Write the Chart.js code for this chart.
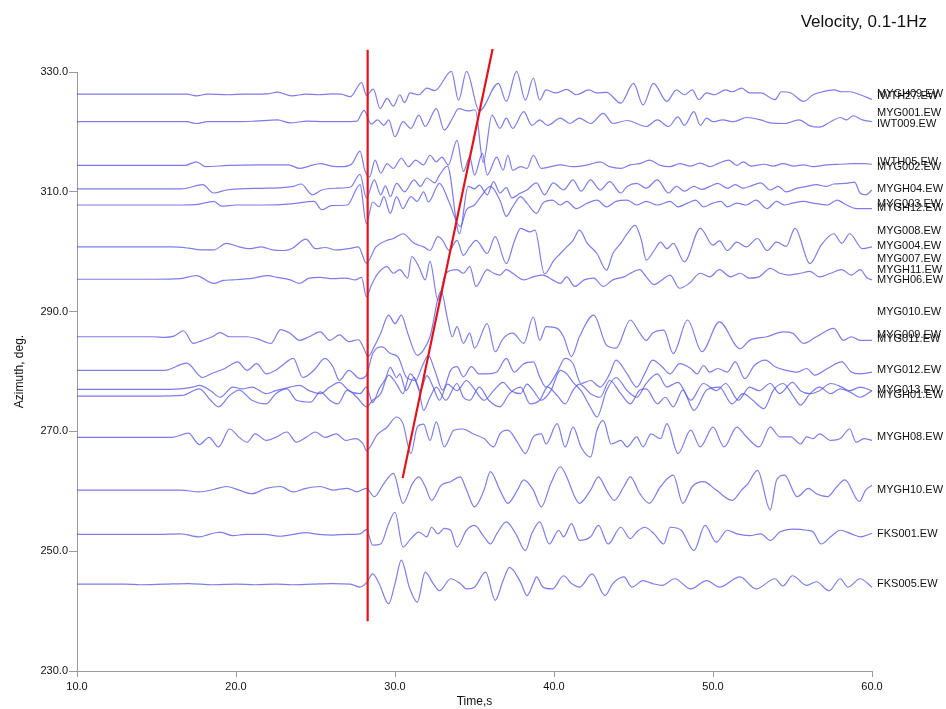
<!DOCTYPE html>
<html>
<head>
<meta charset="utf-8">
<title>Velocity, 0.1-1Hz</title>
<script src="https://cdn.jsdelivr.net/npm/chart.js@4.4.1/dist/chart.umd.min.js"></script>
<style>
  html, body { margin: 0; padding: 0; background: #fff; }
  #wrap { width: 946px; height: 709px; }
</style>
</head>
<body>
<div id="wrap"><canvas id="seisChart" width="946" height="709"></canvas></div>
<script>
// station names printed at the right edge, with the azimuth they sit at
const labelNames = ['MYGH09.EW', 'IWTH27.EW', 'MYG001.EW', 'IWT009.EW', 'IWTH05.EW', 'MYG002.EW',
  'MYGH04.EW', 'MYG003.EW', 'MYGH12.EW', 'MYG008.EW', 'MYG004.EW', 'MYG007.EW', 'MYGH11.EW',
  'MYGH06.EW', 'MYG010.EW', 'MYG009.EW', 'MYG011.EW', 'MYG012.EW', 'MYG013.EW', 'MYGH01.EW',
  'MYGH08.EW', 'MYGH10.EW', 'FKS001.EW', 'FKS005.EW'];
const labelAzimuths = [326.3, 326.0, 323.1, 321.4, 315.0, 314.2, 310.4, 307.9, 307.3, 303.5,
  301.0, 298.8, 297.0, 295.3, 289.9, 286.1, 285.4, 280.2, 276.9, 276.0, 269.0, 260.2, 252.8, 244.6];

// traces: station, baseline azimuth (deg) and waveform as [time s, offset deg]
const traceStations = ['MYGH09', 'IWT009', 'IWTH05', 'MYGH04', 'MYG003', 'MYG004', 'MYGH06',
  'MYG009', 'MYG012', 'MYG013', 'MYGH01', 'MYGH08', 'MYGH10', 'FKS001', 'FKS005'];
const traceBaselines = [326.3, 321.7, 314.4, 310.5, 307.8, 300.8, 295.4,
  285.8, 280.2, 277.0, 275.9, 269.0, 260.2, 252.8, 244.5];

const mygh09Wave = [[10,0],[16.9,0],[17.5,-0.28],[18.2,0],[19.5,-0.1],[20.5,0],[22.0,0.05],[22.6,0.33],[23.5,-0.28],[24.4,0],[25.2,-0.1],[26.0,0.05],[26.6,0],[27.2,-0.4],[27.9,1.95],[28.2,-0.2],[28.64,0.84],[29.06,-2.4],[29.5,-0.7],[29.9,-2.0],[30.3,-0.1],[30.6,-1.4],[30.95,0.2],[31.5,-0.1],[32.0,1.0],[32.5,0.6],[33.55,3.8],[34.0,-1.0],[34.5,3.8],[35.3,-2.8],[36.5,1.8],[37.0,-1.2],[37.65,3.8],[38.2,-1.0],[38.7,2.7],[39.1,-1.0],[39.5,0.7],[40.1,0.2],[40.8,0.8],[41.4,-0.1],[42.2,0.7],[42.7,0.2],[43.3,0.3],[44.2,-1.5],[45.0,1.8],[45.6,-1.8],[46.25,1.8],[47.1,-1.2],[47.7,0.7],[48.2,-0.1],[48.7,0.7],[49.1,-0.9],[49.6,0.2],[50.1,-0.1],[50.8,0.7],[51.2,0.4],[51.8,1.0],[52.3,0.2],[53.0,0.2],[53.9,-0.9],[54.3,0.4],[54.9,0.2],[55.7,-1.2],[56.3,-0.1],[56.9,0.4],[57.6,0.7],[58.1,0.4],[58.6,0.4],[59.25,-0.1],[60,-0.9]];
const iwt009Wave = [[10,0],[16.9,0],[17.5,-0.3],[18.2,0],[20.0,0],[21.2,0.1],[22.6,0.3],[23.4,-0.2],[24.5,0.1],[25.5,0],[26.7,0],[27.6,0.1],[28.05,1.9],[28.5,-0.4],[28.9,0.3],[29.3,-0.6],[29.6,0.3],[30.0,-2.5],[30.5,0],[31.0,-1.1],[31.5,1.1],[31.9,-0.8],[32.6,2.2],[33.1,-1.4],[33.6,0.5],[34.0,2.2],[34.6,1.8],[35.05,2.0],[35.55,-6.8],[36.1,1.1],[36.6,-1.1],[37.0,0.6],[37.4,-1.1],[38.1,1.7],[38.6,-0.6],[39.1,0.3],[39.6,-0.6],[40.4,0.6],[41.0,-0.3],[41.6,0.6],[42.3,-0.3],[43.1,1.4],[43.7,-0.3],[44.6,0.2],[45.8,-0.8],[46.5,0.3],[47.2,-0.8],[47.8,0.8],[48.2,-0.6],[48.8,1.7],[49.2,-0.6],[49.6,0.6],[50.0,0],[50.6,0.3],[51.3,0],[52.1,0.7],[53.0,0.3],[53.6,-0.2],[54.5,-0.3],[55.4,0.3],[56.1,-0.7],[56.7,-0.9],[57.4,0],[58.0,0.7],[58.4,0.3],[58.8,1.0],[59.4,0.3],[60,0]];
const iwth05Wave = [[10,0],[14.4,0],[16.8,0],[17.5,0.6],[18.1,-0.2],[19.5,0],[21.5,0.1],[23.3,0.1],[24.0,-0.5],[24.6,-0.1],[25.3,0.3],[26.0,-0.1],[26.8,-0.2],[27.3,0.3],[27.8,2.4],[28.1,-0.8],[28.4,-1.9],[28.75,0.9],[29.1,-1.3],[29.5,0.3],[29.9,-0.5],[30.4,1.2],[30.85,-0.2],[31.3,0.9],[31.8,0.1],[32.2,1.7],[32.6,0.6],[32.95,1.4],[33.35,0.1],[33.9,4.2],[34.3,-1.0],[34.7,1.4],[35.0,-1.6],[35.5,2.0],[35.8,-1.6],[36.4,1.4],[36.8,-0.8],[37.1,1.7],[37.4,-0.8],[37.9,-0.2],[38.3,-0.5],[38.7,1.7],[39.2,-0.5],[39.8,-0.2],[40.4,0.1],[41.2,-0.2],[42.1,0.1],[42.9,0.6],[43.5,-0.2],[44.2,-0.5],[44.8,0.1],[45.4,0.3],[46.0,0.9],[46.7,0],[47.3,-0.2],[47.9,0.3],[48.6,-0.1],[49.2,0.4],[49.8,-0.2],[50.3,0.3],[51.0,0.9],[51.5,0],[51.9,0.6],[52.4,-0.1],[53.2,0.2],[53.8,-0.1],[54.4,0.3],[55.1,-0.1],[55.7,0.1],[56.3,-0.2],[57.2,0.1],[58.0,0.2],[58.8,0.3],[59.5,0.3],[60,0.2]];
const mygh04Wave = [[10,0],[15.0,0],[16.6,0],[17.9,0.7],[18.6,-0.7],[19.4,-0.2],[20.2,0],[22.0,0.1],[23.6,0.4],[24.1,0.8],[24.8,-1.0],[25.4,-0.2],[26.3,0.1],[27.2,0.3],[27.8,2.4],[28.2,-1.5],[28.7,1.5],[29.1,-1.0],[29.4,0.5],[29.7,-1.3],[30.1,0.9],[30.6,-0.5],[31.2,1.5],[31.6,0.4],[32.0,1.8],[32.5,1.0],[32.8,2.3],[33.3,3.8],[34.05,-7.5],[34.6,0.4],[35.0,0.0],[35.3,0.6],[35.8,-1.0],[36.2,1.2],[36.6,-0.7],[37.0,0.2],[37.35,-1.5],[37.9,-0.7],[38.3,-0.2],[38.9,1.0],[39.4,-1.0],[39.95,1.0],[40.6,-0.2],[41.2,1.5],[41.7,-0.4],[42.3,1.5],[42.9,-0.2],[43.5,1.2],[44.2,-0.7],[44.6,0.4],[45.2,0.9],[45.8,0.1],[46.5,1.5],[47.2,-0.7],[47.7,0.4],[48.2,-0.4],[48.8,0.4],[49.3,-0.1],[49.8,0.4],[50.3,0.9],[50.9,0.1],[51.4,0.7],[51.9,0.1],[52.4,0.5],[53.0,1.0],[53.6,-0.2],[54.1,0.4],[54.6,-0.5],[55.3,0.1],[55.9,0.4],[56.5,0.7],[57.1,0.4],[57.6,0.8],[58.3,0.9],[58.9,1.1],[59.25,-0.7],[59.6,-1.0],[60,-0.2]];
const myg003Wave = [[10,0],[15.0,0],[16.5,0],[17.6,0.1],[18.6,0.6],[19.1,-0.2],[20.0,0],[21.8,0],[23.5,0.2],[24.9,0.6],[25.4,-0.8],[26.0,-0.1],[27.0,0],[27.8,3.4],[28.2,-3.1],[28.6,0.5],[29.0,-0.3],[29.3,1.4],[29.7,-1.4],[30.1,1.4],[30.5,-0.6],[31.0,1.4],[31.4,0.6],[31.8,2.2],[32.1,0.5],[32.8,3.6],[33.4,0.5],[34.1,-3.6],[34.5,-0.8],[35.0,0],[35.4,1.4],[36.0,3.1],[36.6,0.8],[37.0,-1.9],[37.4,-0.3],[37.9,1.4],[38.3,0.3],[38.9,-1.4],[39.3,0.3],[39.9,0.8],[40.4,0],[40.8,0.6],[41.4,-0.6],[42.1,0.3],[42.7,0.8],[43.3,-0.3],[43.9,0.6],[44.6,0.8],[45.2,0],[45.8,0.6],[46.5,0],[47.3,0.6],[47.8,-0.3],[48.4,0.3],[48.9,0.8],[49.4,-0.3],[50.0,0.3],[50.5,0.6],[50.9,-0.3],[51.5,0.3],[52.1,0],[52.7,0.8],[53.4,-0.6],[54.0,0.6],[54.5,0],[55.0,0.3],[55.7,0.6],[56.3,0.3],[57.2,0],[57.8,0.8],[58.4,0],[59.0,-0.6],[59.6,-0.6],[60,-0.6]];
const myg004Wave = [[10,0],[16.0,0],[17.0,-0.2],[17.8,-0.5],[18.6,-0.5],[19.4,0.6],[20.2,0],[20.8,-0.3],[21.6,0],[22.3,-0.5],[23.0,-0.6],[23.5,-0.3],[24.4,1.3],[25.0,-0.3],[25.6,-0.1],[26.3,-0.5],[27.1,-0.3],[27.7,0],[28.2,-2.7],[28.8,0],[29.5,1.1],[29.9,1.4],[30.5,2.2],[31.2,0.6],[31.8,0],[32.2,-0.6],[32.7,1.7],[33.0,1.1],[33.4,-0.6],[33.9,1.1],[34.3,-1.4],[34.7,0],[35.1,1.1],[35.8,-1.1],[36.3,1.7],[37.0,-2.8],[37.5,0.9],[37.9,3.1],[38.5,2.5],[38.8,2.8],[39.4,-4.5],[40.0,-2.2],[40.4,-1.1],[40.8,0],[41.2,1.1],[41.6,2.8],[42.1,0.6],[42.7,-1.1],[43.3,-3.9],[43.7,-1.1],[44.2,0.6],[44.6,2.2],[45.1,3.6],[45.5,1.1],[45.8,-2.2],[46.3,-0.6],[46.7,0.8],[47.1,-0.3],[47.5,0.6],[48.2,-2.5],[49.2,3.1],[50.0,0.3],[50.4,1.0],[50.9,-0.6],[51.5,0.8],[52.1,0],[52.8,1.4],[53.4,-0.6],[54.0,0.8],[54.6,0.1],[55.16,3.1],[56.1,-2.8],[56.8,0.3],[57.6,2.2],[58.1,0.6],[58.6,2.2],[59.4,-0.3],[60,0]];
const mygh06Wave = [[10,0],[14.8,0],[16.5,0.1],[17.5,0.6],[18.6,-0.7],[19.2,-0.2],[19.8,-0.1],[21.1,0.2],[22.0,0.6],[22.6,0.3],[23.4,-0.1],[24.0,-0.7],[24.6,0.2],[25.3,0.3],[26.1,0.1],[26.9,0.2],[27.5,-0.1],[27.9,0.3],[28.2,-2.9],[28.5,-1.1],[28.85,0.7],[29.5,2.1],[29.9,1.0],[30.3,1.6],[30.8,0.2],[31.05,3.8],[31.5,2.1],[31.9,-0.1],[32.2,3.0],[32.7,-3.5],[33.2,1.0],[33.9,1.6],[34.3,1.0],[34.7,2.1],[35.1,-1.2],[35.8,1.6],[36.2,1.0],[36.6,0.7],[37.0,1.6],[37.4,1.0],[38.1,-0.1],[38.7,0.4],[39.3,0.7],[39.9,-0.1],[40.4,-0.7],[40.8,0.4],[41.3,-1.2],[41.9,-0.1],[42.5,0.2],[43.1,-1.2],[43.7,-0.1],[44.4,0.4],[44.8,1.0],[45.4,1.6],[45.8,0.4],[46.3,-0.9],[46.7,-0.3],[47.3,0.7],[47.9,-1.5],[48.5,-0.7],[49.2,1.0],[49.8,0.4],[50.4,1.6],[51.1,0.4],[51.7,1.0],[52.3,0.2],[52.9,0.4],[53.6,1.8],[54.2,1.0],[54.8,0.7],[55.5,1.0],[56.1,1.3],[56.7,0.4],[57.4,1.0],[58.1,1.6],[58.7,0.7],[59.25,1.6],[59.7,0.2],[60,-0.1]];
const myg009Wave = [[10,0],[14.8,0],[15.5,-0.1],[16.1,0.1],[16.7,1.0],[17.3,-1.1],[17.9,-0.6],[18.5,0],[19.0,0.7],[19.6,0],[20.7,0],[21.3,-0.3],[22.2,-1.1],[22.8,1.2],[23.4,0.6],[24.0,-0.6],[24.6,0],[25.3,0.8],[25.9,-0.6],[26.5,0.3],[27.1,-0.8],[27.7,-0.5],[28.0,-1.7],[28.3,-3.3],[28.7,-1.6],[29.1,0.6],[29.6,3.6],[30.0,2.2],[30.4,3.6],[30.8,0.6],[31.4,-3.1],[31.8,-2.2],[32.2,0],[32.9,7.6],[33.3,3.0],[33.6,0],[33.9,1.7],[34.3,-1.1],[34.7,0.6],[35.0,-1.9],[35.8,2.2],[36.3,-2.5],[36.8,-0.3],[37.4,0.6],[38.1,-1.1],[38.7,3.3],[39.1,-0.6],[39.5,1.7],[40.2,1.4],[40.6,0],[41.1,-3.3],[41.6,0],[42.5,3.6],[43.3,-1.4],[43.9,-1.9],[44.8,2.8],[45.4,0.6],[45.8,-0.6],[46.2,0.6],[46.9,1.1],[47.5,-2.8],[48.4,2.8],[49.3,-2.5],[50.4,2.5],[51.7,-2.0],[52.3,-0.6],[53.4,0],[54.4,0.8],[55.0,0.6],[55.7,-1.1],[56.5,0],[57.6,1.4],[58.2,-0.6],[58.7,0],[59.25,-0.6],[60,-0.6]];
const myg012Wave = [[10,0],[14.0,0],[15.5,0],[16.9,1.2],[17.9,-1.2],[18.5,-0.5],[19.3,0.3],[20.1,1.4],[20.7,0],[21.3,1.1],[21.9,-0.6],[22.5,0],[22.9,0.8],[23.6,2.0],[24.2,-1.2],[24.9,0],[25.6,2.0],[26.1,0.6],[26.5,-1.7],[27.1,0],[27.8,-1.4],[28.2,-0.8],[28.6,2.8],[29.2,3.9],[29.7,2.8],[30.2,2.2],[30.7,-1.1],[31.3,-1.7],[31.7,0.6],[32.1,2.5],[32.5,0],[33.0,-3.3],[33.5,0],[33.9,0.6],[34.3,-1.1],[34.8,0.6],[35.3,-0.6],[35.8,-0.6],[36.4,-0.3],[37.0,2.0],[37.5,-0.3],[38.1,1.1],[38.7,1.4],[39.1,-1.1],[39.5,-2.8],[40.2,-0.3],[40.7,2.0],[41.2,1.1],[41.7,-2.2],[42.3,-1.7],[42.9,-2.8],[43.5,-0.6],[43.9,1.7],[44.6,-0.6],[45.2,-2.8],[45.7,-0.6],[46.2,1.7],[46.8,0.6],[47.3,-0.6],[47.9,1.1],[48.6,0.3],[49.0,-0.6],[49.4,0.8],[49.8,-0.3],[50.3,0.3],[50.9,-0.3],[51.4,1.4],[52.0,-1.4],[52.6,0.8],[53.3,1.7],[53.9,0.6],[54.6,0],[55.3,-0.3],[55.9,0.3],[56.4,-0.8],[57.2,0.3],[58.1,1.4],[58.7,-0.3],[59.25,-0.6],[60,-0.3]];
const myg013Wave = [[10,0],[15.0,0],[16.5,0.1],[17.3,0.4],[17.7,0.7],[18.4,-0.2],[19.0,-1.3],[19.8,0.4],[20.4,0.1],[21.0,0.4],[21.9,-0.7],[22.5,-0.2],[23.4,0.4],[24.0,0.7],[24.6,-0.2],[25.3,-0.7],[25.9,0.4],[26.5,1.2],[27.1,-0.2],[27.8,-0.7],[28.2,0.4],[28.6,-2.2],[29.0,0.1],[29.4,1.8],[29.7,3.7],[30.1,2.0],[30.3,2.6],[30.7,-0.2],[31.2,2.0],[31.6,-0.2],[32.0,2.3],[32.4,0.4],[32.8,-1.8],[33.3,0.9],[33.9,-0.2],[34.5,1.5],[34.9,0.4],[35.6,-1.8],[36.2,-0.2],[36.8,1.2],[37.3,-0.2],[37.9,-0.7],[38.3,0.9],[38.7,-0.2],[39.2,-1.8],[39.8,-0.2],[40.4,3.2],[40.8,2.6],[41.2,1.2],[41.7,-0.2],[42.3,-3.0],[42.7,-4.6],[43.3,-0.2],[43.9,2.0],[44.6,-0.2],[45.2,-1.3],[45.8,1.0],[46.5,2.6],[47.1,0.4],[47.5,0.9],[47.8,1.2],[48.6,-1.8],[49.4,1.0],[50.2,-0.2],[50.8,1.0],[51.6,-1.8],[52.3,0.4],[52.9,-0.2],[53.6,1.0],[54.2,-0.7],[55.0,1.2],[55.5,-0.2],[56.1,-0.7],[56.7,-0.2],[57.4,1.0],[58.1,0.4],[58.6,-0.2],[59.25,0.4],[60,-0.2]];
const mygh01Wave = [[10,0],[15.0,0],[16.6,0.1],[17.7,1.2],[18.4,-0.7],[18.9,-1.8],[19.6,0.1],[20.2,1.0],[21.0,-0.7],[21.9,-1.3],[22.5,0.4],[23.2,1.2],[23.8,-0.7],[24.7,-1.0],[25.3,0.7],[25.9,-0.7],[26.4,-1.3],[27.0,1.0],[27.6,-0.2],[28.2,-1.8],[28.6,-0.7],[29.1,0.4],[29.6,3.5],[30.1,2.0],[30.5,0.4],[30.95,3.7],[31.5,1.0],[31.8,-2.4],[32.2,-0.2],[32.6,1.5],[33.2,-0.7],[33.9,2.1],[34.3,-0.2],[34.7,-0.7],[35.3,1.5],[35.9,-0.7],[36.6,-1.8],[37.2,0.4],[37.9,1.5],[38.5,-1.3],[39.1,-0.7],[39.6,1.5],[40.2,0.1],[40.7,-1.3],[41.2,1.0],[41.6,2.0],[42.3,0.4],[42.9,-0.2],[43.5,2.6],[44.2,0.4],[44.8,-1.3],[45.4,1.0],[45.8,1.2],[46.5,-1.3],[47.0,-0.2],[47.5,-1.8],[48.1,1.0],[48.8,-2.4],[49.6,1.0],[50.4,1.5],[51.2,-1.3],[51.9,0.4],[52.5,-0.7],[53.2,-2.1],[53.8,1.0],[54.4,2.1],[55.1,-0.2],[55.5,-1.5],[56.1,0.4],[56.7,1.5],[57.4,0.4],[58.0,1.2],[58.6,0.7],[59.25,-0.2],[60,0.9]];
const mygh08Wave = [[10,0],[14.4,0],[16.0,0],[17.0,0.7],[17.7,-1.2],[18.3,0],[18.9,-1.6],[19.6,1.4],[20.2,0],[20.7,-0.8],[21.2,0.6],[21.9,-0.5],[22.5,0],[23.2,0.9],[23.8,-0.8],[24.4,0],[25.0,0.9],[25.6,0],[26.3,0.6],[26.9,-0.5],[27.5,-0.2],[28.0,-1.1],[28.2,-2.2],[28.9,0.5],[29.5,1.7],[30.1,3.4],[30.5,2.3],[31.0,-2.7],[31.4,1.7],[31.8,2.2],[32.2,-0.5],[32.6,2.6],[33.1,-1.6],[33.7,1.2],[34.3,1.4],[34.9,0.6],[35.6,-0.2],[36.2,-1.6],[36.6,0.6],[37.1,1.2],[37.7,-0.8],[38.2,-2.7],[38.7,0.1],[39.2,0.6],[39.5,-1.1],[40.2,2.3],[40.7,-1.6],[41.2,1.7],[41.7,-1.6],[42.3,-3.3],[42.7,1.2],[43.1,2.8],[43.6,-1.1],[44.2,-0.5],[44.6,-1.6],[45.2,0.1],[45.6,-1.6],[46.1,0.6],[46.7,-0.2],[47.1,2.3],[47.8,-2.7],[48.6,1.2],[49.2,-1.6],[50.0,1.7],[50.7,-1.6],[51.5,1.7],[52.1,0.1],[52.9,-1.6],[53.6,1.7],[54.2,0.1],[54.9,0.1],[55.5,-1.1],[55.9,0.1],[56.3,-0.2],[56.7,0.6],[57.4,-0.5],[58.0,-0.2],[58.6,1.4],[59.0,-0.8],[59.5,-0.2],[60,-0.5]];
const mygh10Wave = [[10,0],[16.5,0],[17.7,-0.3],[18.6,0.1],[19.4,0.6],[20.2,0],[21.0,-0.6],[21.9,0.3],[22.8,0.6],[23.6,-0.3],[24.4,0.3],[25.3,0.6],[26.1,0],[27.0,0.3],[27.6,-0.3],[28.2,0.3],[28.7,-1.1],[29.3,1.1],[29.9,2.8],[30.5,-2.2],[31.1,1.1],[31.5,2.2],[31.9,0.6],[32.3,-1.7],[32.9,0.8],[33.5,1.4],[34.1,2.2],[34.5,0],[35.0,-2.8],[35.6,0],[36.0,3.1],[36.6,0],[37.1,-2.2],[37.7,0],[38.1,1.7],[38.7,0],[39.2,-2.8],[39.8,1.1],[40.4,3.9],[40.8,2.2],[41.3,-1.1],[41.6,-2.2],[42.3,0],[42.8,2.2],[43.3,0],[43.8,-1.7],[44.4,0.6],[44.8,2.2],[45.4,-0.6],[46.0,-2.2],[46.7,0.6],[47.5,2.5],[48.1,-2.2],[48.7,0.6],[49.4,1.4],[50.2,0],[51.2,-1.7],[51.8,0],[52.2,1.1],[52.8,3.3],[53.6,-3.3],[54.0,1.7],[54.5,2.5],[55.3,-1.1],[56.0,0.3],[56.5,-0.6],[57.2,-1.1],[57.8,0.6],[58.3,1.7],[59.2,-1.9],[59.6,0],[60,0.8]];
const fks001Wave = [[10,0],[15.0,0],[16.5,0.1],[17.7,-0.4],[18.3,0],[19.0,0.4],[19.8,-0.2],[20.6,0],[21.8,0],[22.8,-0.3],[23.6,0],[24.4,0.3],[25.2,0],[26.1,-0.1],[27.0,0],[27.8,0.1],[28.2,0.8],[28.6,-1.8],[29.1,-1.6],[29.6,1.8],[30.0,3.7],[30.5,-2.1],[31.0,-0.7],[31.5,0.4],[32.0,-0.4],[32.3,1.2],[32.7,0.1],[33.1,1.0],[33.5,0.7],[33.9,-2.1],[34.5,0.7],[35.0,1.5],[35.6,-0.4],[36.0,-1.6],[36.4,0.1],[37.0,2.1],[37.6,0.1],[38.2,-2.7],[38.6,0.1],[39.1,2.1],[39.7,-1.6],[40.3,0.7],[40.6,-0.4],[41.1,1.8],[41.6,-1.0],[42.3,-0.4],[42.8,1.5],[43.4,-1.6],[44.2,1.2],[44.8,-0.7],[45.2,0.4],[45.7,1.2],[46.3,0.1],[46.9,-1.6],[47.3,1.2],[48.0,0.7],[48.8,-2.7],[49.5,1.5],[50.2,-1.3],[50.9,0.7],[51.5,0.1],[52.3,-0.2],[53.0,0.1],[53.6,-1.0],[54.2,0.4],[55.1,0.9],[55.9,0.7],[56.3,0.4],[56.8,-1.6],[57.4,-0.4],[58.0,0.7],[58.7,0.1],[59.25,-0.4],[60,0.2]];
const fks005Wave = [[10,0],[13.0,0],[14.0,-0.1],[15.5,0],[17.0,0.1],[18.5,-0.1],[20.0,0],[21.2,-0.1],[22.5,0],[23.5,-0.1],[24.8,0],[26.0,0.1],[27.2,0],[27.8,-0.5],[28.2,0.2],[28.6,1.7],[29.0,0.1],[29.6,-3.3],[30.0,0.1],[30.4,4.0],[30.9,-0.5],[31.4,-3.0],[31.9,2.0],[32.4,0.1],[32.8,-1.1],[33.5,0.9],[34.1,0.1],[34.5,-0.8],[35.0,-0.5],[35.7,2.0],[36.3,-2.7],[36.8,0.6],[37.2,2.8],[37.9,0.3],[38.3,-1.9],[38.7,0.1],[38.9,1.2],[39.3,-0.5],[39.9,-0.8],[40.6,1.4],[41.1,0.1],[41.6,-0.5],[42.4,1.7],[43.2,-1.9],[43.7,0.1],[44.4,1.2],[44.9,-0.5],[45.6,0.6],[46.2,0.1],[46.8,-0.2],[47.6,0.9],[48.6,-0.8],[49.6,0.6],[50.4,-0.5],[51.7,1.2],[52.7,-0.8],[53.9,0.9],[54.4,-0.3],[55.0,1.4],[55.9,-0.2],[56.5,0.4],[57.3,-1.1],[58.0,0.9],[58.5,-0.5],[59.25,0.9],[60,-0.5]];

const traceWaves = [mygh09Wave, iwt009Wave, iwth05Wave, mygh04Wave, myg003Wave, myg004Wave, mygh06Wave,
  myg009Wave, myg012Wave, myg013Wave, mygh01Wave, mygh08Wave, mygh10Wave, fks001Wave, fks005Wave];

// picked arrivals: vertical onset line and sloped moveout line (time s, azimuth deg)
const onsetTime = [28.28, 28.28];
const onsetAz = [238.3, 333.7];
const moveoutTime = [30.48, 36.14];
const moveoutAz = [262.2, 333.85];

const xTicks = [10, 20, 30, 40, 50, 60];
const yTicks = [230, 250, 270, 290, 310, 330];

const FONT = '"Liberation Sans", Arial, Helvetica, sans-serif';
const AXIS_GREY = '#9a9a9a';
const TRACE_BLUE = 'rgba(88, 88, 228, 0.78)';
const PICK_RED = '#e0141c';

function toPoints(times, values) {
    return times.map((t, i) => ({ x: t, y: values[i] }));
}

function traceDataset(i) {
    const base = traceBaselines[i];
    return {
        label: traceStations[i],
        data: traceWaves[i].map(([t, a]) => ({ x: t, y: base + a })),
        showLine: true,
        borderColor: TRACE_BLUE,
        borderWidth: 1.2,
        pointRadius: 0,
        cubicInterpolationMode: 'monotone',
        clip: false,
        order: 2
    };
}

function pickDataset(name, times, azimuths) {
    return {
        label: name,
        data: toPoints(times, azimuths),
        showLine: true,
        borderColor: PICK_RED,
        borderWidth: 2.2,
        pointRadius: 0,
        clip: false,
        order: 0
    };
}

// station names on the right and the panel title
const annotations = {
    id: 'annotations',
    afterDraw(chart) {
        const { ctx, chartArea, scales } = chart;
        ctx.save();
        ctx.fillStyle = '#111';
        ctx.textBaseline = 'middle';
        ctx.textAlign = 'left';
        ctx.font = '11px ' + FONT;
        labelNames.forEach((name, i) => {
            ctx.fillText(name, chartArea.right + 5, scales.y.getPixelForValue(labelAzimuths[i]));
        });
        ctx.textAlign = 'right';
        ctx.font = '17px ' + FONT;
        ctx.fillText('Velocity, 0.1-1Hz', 927, 22);
        ctx.restore();
    }
};

function createSeismogramChart() {
    const ctx = document.getElementById('seisChart');
    if (!ctx) return;

    const datasets = [
        pickDataset('onset', onsetTime, onsetAz),
        pickDataset('moveout', moveoutTime, moveoutAz)
    ];
    traceStations.forEach((_, i) => datasets.push(traceDataset(i)));

    new Chart(ctx, {
        type: 'scatter',
        data: { datasets },
        options: {
            responsive: false,
            animation: false,
            devicePixelRatio: 1,
            layout: { padding: { top: 72, right: 74, left: 0, bottom: 0 } },
            plugins: {
                legend: { display: false },
                tooltip: { enabled: false }
            },
            scales: {
                x: {
                    type: 'linear',
                    min: 10,
                    max: 60,
                    afterBuildTicks: (scale) => { scale.ticks = xTicks.map(v => ({ value: v })); },
                    afterFit: (scale) => { scale.height = 38; },
                    ticks: {
                        callback: (v) => Number(v).toFixed(1),
                        color: '#111',
                        font: { size: 11, family: FONT },
                        padding: 3,
                        maxRotation: 0
                    },
                    grid: { drawOnChartArea: false, tickLength: 6, color: AXIS_GREY },
                    border: { color: AXIS_GREY },
                    title: {
                        display: true,
                        text: 'Time,s',
                        color: '#111',
                        font: { size: 12, family: FONT },
                        padding: { top: 0, bottom: 0 }
                    }
                },
                y: {
                    type: 'linear',
                    min: 230,
                    max: 330,
                    afterBuildTicks: (scale) => { scale.ticks = yTicks.map(v => ({ value: v })); },
                    afterFit: (scale) => { scale.width = 77; },
                    ticks: {
                        callback: (v) => Number(v).toFixed(1),
                        color: '#111',
                        font: { size: 11, family: FONT },
                        padding: 1
                    },
                    grid: { drawOnChartArea: false, tickLength: 8, color: AXIS_GREY },
                    border: { color: AXIS_GREY },
                    title: {
                        display: true,
                        text: 'Azimuth, deg.',
                        color: '#111',
                        font: { size: 12, family: FONT },
                        padding: { top: 12, bottom: 0 }
                    }
                }
            }
        },
        plugins: [annotations]
    });
}

document.addEventListener('DOMContentLoaded', () => {
    createSeismogramChart();
});
</script>
</body>
</html>
